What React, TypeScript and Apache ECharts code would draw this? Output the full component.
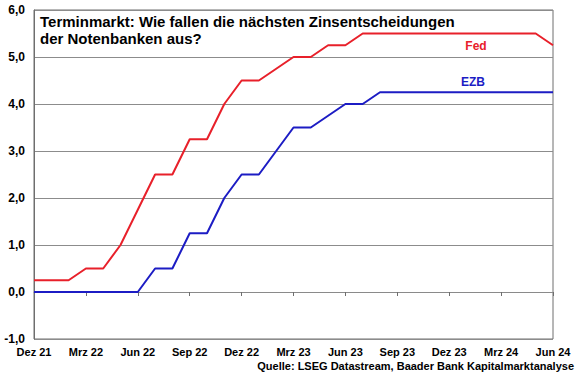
import React, { useEffect, useRef } from "react";
import * as echarts from "echarts";

const months = [
  "Dez 21", "Jan 22", "Feb 22", "Mrz 22", "Apr 22", "Mai 22", "Jun 22", "Jul 22", "Aug 22", "Sep 22", "Okt 22", "Nov 22",
  "Dez 22", "Jan 23", "Feb 23", "Mrz 23", "Apr 23", "Mai 23", "Jun 23", "Jul 23", "Aug 23", "Sep 23", "Okt 23", "Nov 23",
  "Dez 23", "Jan 24", "Feb 24", "Mrz 24", "Apr 24", "Mai 24", "Jun 24",
];

const fed = [
  0.25, 0.25, 0.25, 0.5, 0.5, 1.0, 1.75, 2.5, 2.5, 3.25, 3.25, 4.0,
  4.5, 4.5, 4.75, 5.0, 5.0, 5.25, 5.25, 5.5, 5.5, 5.5, 5.5, 5.5,
  5.5, 5.5, 5.5, 5.5, 5.5, 5.5, 5.25,
];

const ezb = [
  0, 0, 0, 0, 0, 0, 0, 0.5, 0.5, 1.25, 1.25, 2.0,
  2.5, 2.5, 3.0, 3.5, 3.5, 3.75, 4.0, 4.0, 4.25, 4.25, 4.25, 4.25,
  4.25, 4.25, 4.25, 4.25, 4.25, 4.25, 4.25,
];

const titleLines = ["Terminmarkt: Wie fallen die nächsten Zinsentscheidungen", "der Notenbanken aus?"];
const sourceText = "Quelle: LSEG Datastream, Baader Bank Kapitalmarktanalyse";

const FONT = "Arial, 'Liberation Sans', sans-serif";

export default function App() {
  const ref = useRef<HTMLDivElement>(null);
  useEffect(() => {
    if (!ref.current) return;
    const chart = echarts.init(ref.current, null, { renderer: "svg" });
    chart.setOption({
      animation: false,
      backgroundColor: "#ffffff",
      textStyle: { fontFamily: FONT },
      grid: {
        left: 34,
        right: 27,
        top: 10,
        bottom: 36,
        show: true,
        borderColor: "#6e6e6e",
        borderWidth: 1,
        backgroundColor: "transparent",
      },
      xAxis: {
        type: "category",
        data: months,
        boundaryGap: false,
        axisLine: { show: true, lineStyle: { color: "#8a8a8a", width: 1 } },
        axisTick: { show: true, interval: 2, length: 4, lineStyle: { color: "#6e6e6e" } },
        axisLabel: {
          interval: 2,
          color: "#000",
          fontWeight: "bold",
          fontSize: 11,
          fontFamily: FONT,
          margin: 7,
        },
        splitLine: { show: false },
      },
      yAxis: {
        type: "value",
        min: -1,
        max: 6,
        interval: 1,
        axisLine: { show: true, lineStyle: { color: "#6e6e6e" } },
        axisTick: { show: false },
        axisLabel: {
          color: "#000",
          fontWeight: "bold",
          fontSize: 12,
          fontFamily: FONT,
          margin: 9,
          formatter: (v: number) => v.toFixed(1).replace(".", ","),
        },
        splitLine: { show: true, lineStyle: { color: "#8c8c8c", width: 1 } },
      },
      series: [
        {
          name: "Fed",
          type: "line",
          data: fed,
          symbol: "none",
          lineStyle: { color: "#e8202a", width: 2 },
          z: 3,
        },
        {
          name: "EZB",
          type: "line",
          data: ezb,
          symbol: "none",
          lineStyle: { color: "#1c1cc4", width: 2 },
          z: 3,
        },
      ],
      graphic: [
        {
          type: "text",
          left: 40,
          top: 13,
          style: {
            text: titleLines.join("\n"),
            fill: "#000",
            font: `bold 15px ${FONT}`,
            lineHeight: 17,
          },
        },
        {
          type: "text",
          x: 476,
          y: 46,
          style: { text: "Fed", fill: "#e8202a", font: `bold 12px ${FONT}`, align: "center", verticalAlign: "middle" },
        },
        {
          type: "text",
          x: 473,
          y: 82,
          style: { text: "EZB", fill: "#1c1cc4", font: `bold 12px ${FONT}`, align: "center", verticalAlign: "middle" },
        },
        {
          type: "text",
          x: 574,
          y: 366,
          style: { text: sourceText, fill: "#000", font: `bold 11px ${FONT}`, align: "right", verticalAlign: "middle" },
        },
      ],
    });
    return () => chart.dispose();
  }, []);
  return <div ref={ref} style={{ width: 580, height: 375, position: "absolute", left: 0, top: 0 }} />;
}
